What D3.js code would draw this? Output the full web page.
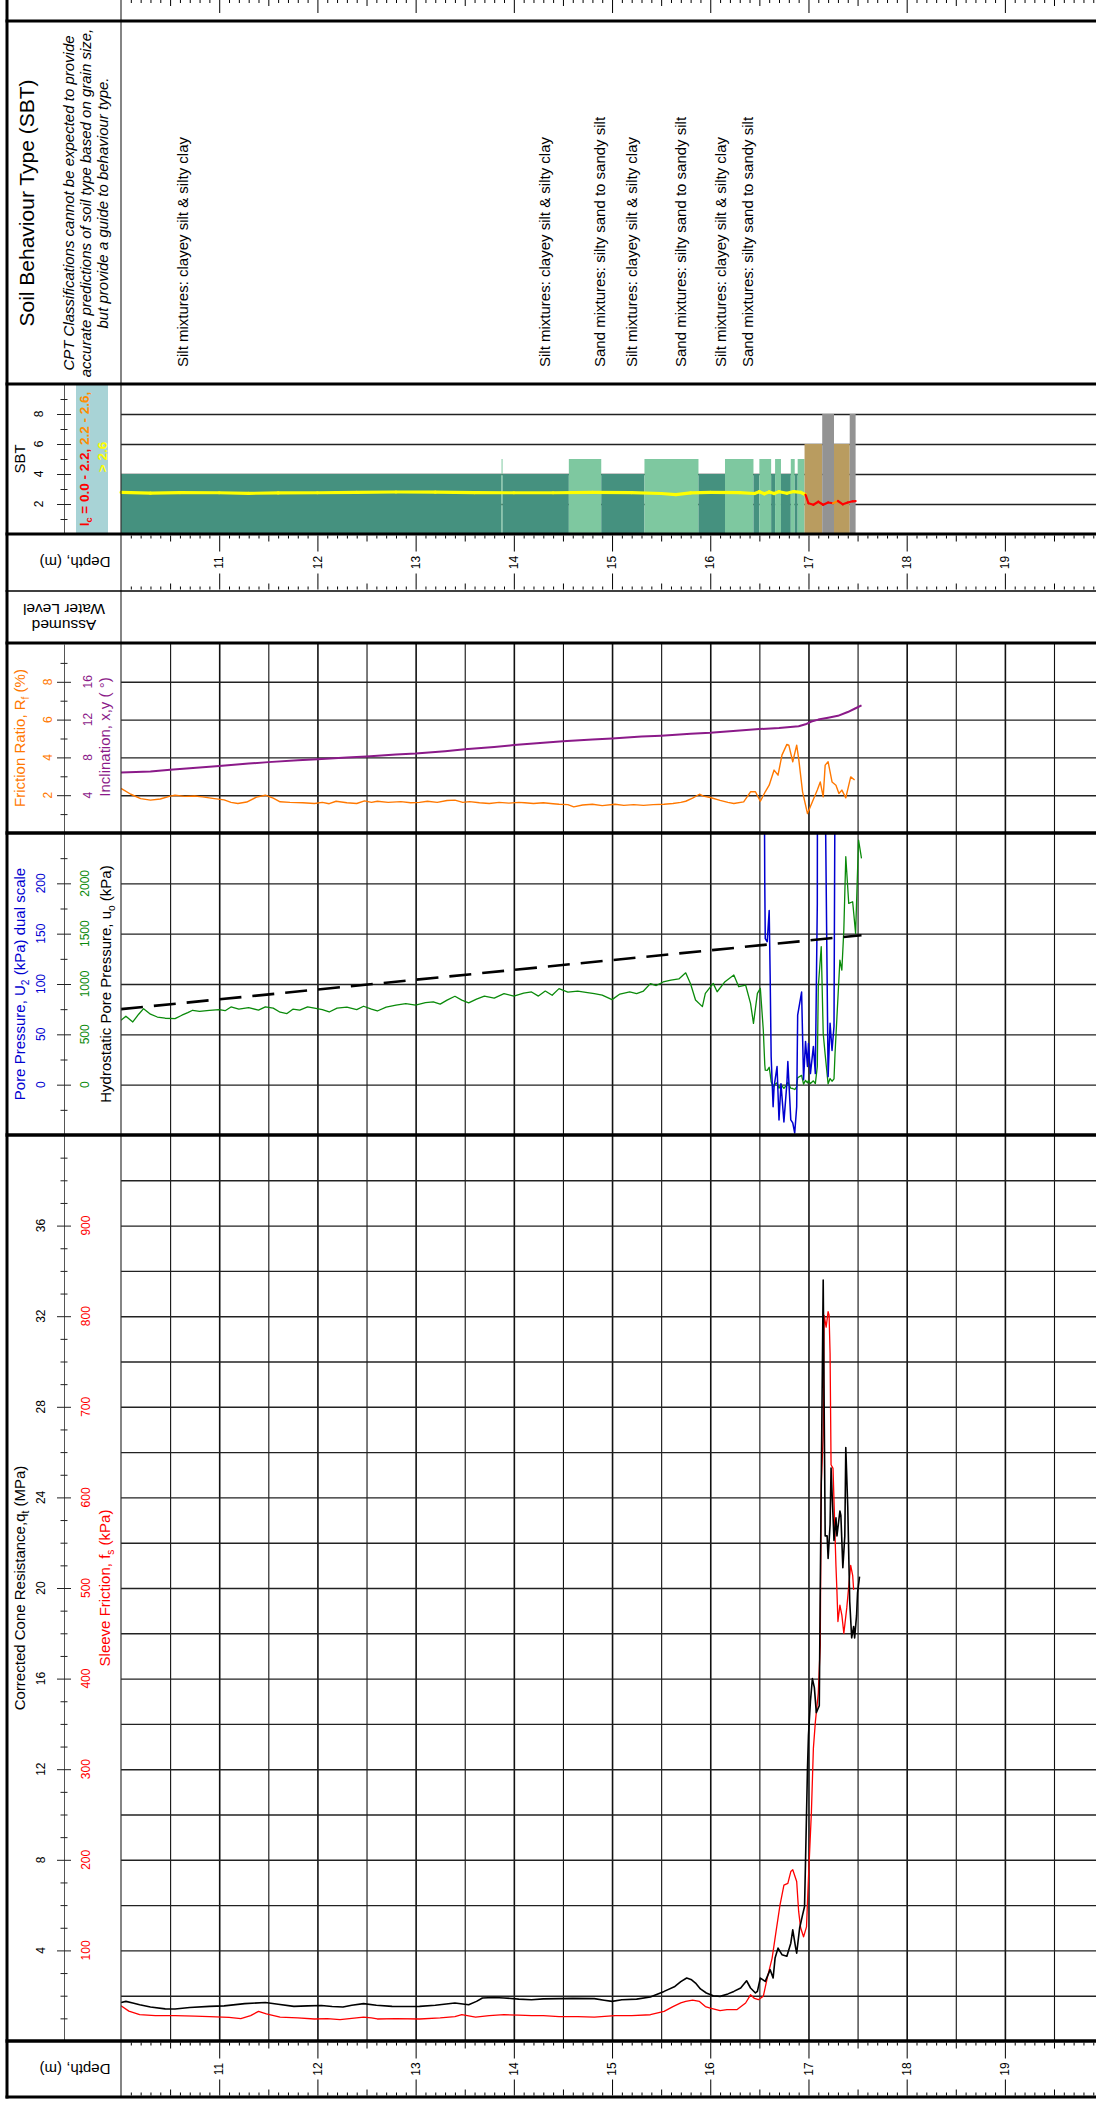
<!DOCTYPE html>
<html>
<head>
<meta charset="utf-8">
<script src="https://cdn.jsdelivr.net/npm/d3@7"></script>
<style>
    html, body { margin: 0; padding: 0; background: #fff; }
    svg { display: block; font-family: "Liberation Sans", Arial, Helvetica, sans-serif; }
</style>
</head>
<body>
<svg id="chart" width="1096" height="2101"></svg>
<script>
/* CPT log, rotated: depth runs left to right, panels are stacked */

// --- Data ---

// soil behaviour type zones: from depth, to depth, zone
const sbtFrom = [10.00, 13.875, 13.885, 14.56, 14.89, 15.33, 15.88, 16.15, 16.44, 16.50, 16.62, 16.66, 16.72, 16.82, 16.86, 16.89, 16.96, 17.14, 17.26, 17.42];
const sbtTo   = [13.875, 13.885, 14.56, 14.89, 15.33, 15.88, 16.15, 16.44, 16.50, 16.62, 16.66, 16.72, 16.82, 16.86, 16.89, 16.96, 17.14, 17.26, 17.42, 17.48];
const sbtZone = [4, 5, 4, 5, 4, 5, 4, 5, 4, 5, 4, 5, 4, 5, 4, 5, 6, 8, 6, 8];

const sbtLabelDepth = [10.63, 14.31, 14.87, 15.20, 15.70, 16.11, 16.38];
const sbtLabelText = [
    'Silt mixtures: clayey silt & silty clay',
    'Silt mixtures: clayey silt & silty clay',
    'Sand mixtures: silty sand to sandy silt',
    'Silt mixtures: clayey silt & silty clay',
    'Sand mixtures: silty sand to sandy silt',
    'Silt mixtures: clayey silt & silty clay',
    'Sand mixtures: silty sand to sandy silt'
];

// soil behaviour index Ic [depth m, Ic]
const icIndex = [
    [10.00, 2.78], [10.30, 2.72], [10.60, 2.76], [11.00, 2.75], [11.30, 2.71], [11.60, 2.74],
    [12.00, 2.75], [12.40, 2.78], [12.80, 2.80], [13.20, 2.79], [13.60, 2.76], [14.00, 2.75],
    [14.40, 2.75], [14.80, 2.77], [15.20, 2.76], [15.50, 2.70], [15.65, 2.63], [15.80, 2.74],
    [16.00, 2.78], [16.30, 2.76], [16.45, 2.70], [16.50, 2.82], [16.55, 2.68], [16.60, 2.80],
    [16.65, 2.70], [16.70, 2.82], [16.78, 2.72], [16.85, 2.83], [16.92, 2.78], [16.97, 2.62],
    [17.00, 2.05], [17.05, 1.95], [17.10, 2.15], [17.15, 1.95], [17.20, 2.10], [17.25, 2.05],
    [17.30, 2.20], [17.35, 1.98], [17.40, 2.10], [17.45, 2.18], [17.48, 2.19]
];

// friction ratio Rf [depth m, %]
const frictionRatio = [
    [10.00, 2.36], [10.10, 2.05], [10.20, 1.82], [10.30, 1.74], [10.40, 1.80], [10.50, 1.95],
    [10.55, 2.00], [10.65, 1.94], [10.75, 1.96], [10.83, 1.91], [10.95, 1.82], [11.05, 1.75],
    [11.12, 1.62], [11.19, 1.56], [11.28, 1.64], [11.38, 1.90], [11.47, 2.00], [11.55, 1.85],
    [11.62, 1.65], [11.72, 1.62], [11.85, 1.60], [11.97, 1.56], [12.05, 1.62], [12.12, 1.55],
    [12.19, 1.68], [12.30, 1.60], [12.40, 1.56], [12.48, 1.70], [12.55, 1.62], [12.61, 1.68],
    [12.72, 1.62], [12.85, 1.66], [12.95, 1.60], [13.04, 1.62], [13.12, 1.68], [13.22, 1.62],
    [13.32, 1.72], [13.40, 1.74], [13.48, 1.62], [13.55, 1.66], [13.65, 1.60], [13.75, 1.56],
    [13.85, 1.62], [13.95, 1.58], [14.05, 1.62], [14.11, 1.60], [14.20, 1.56], [14.30, 1.60],
    [14.40, 1.55], [14.46, 1.52], [14.55, 1.50], [14.61, 1.38], [14.70, 1.48], [14.80, 1.52],
    [14.90, 1.45], [15.03, 1.52], [15.12, 1.46], [15.22, 1.50], [15.32, 1.46], [15.42, 1.50],
    [15.53, 1.52], [15.62, 1.56], [15.70, 1.62], [15.75, 1.68], [15.82, 1.85], [15.89, 2.05],
    [15.93, 1.95], [16.00, 1.88], [16.10, 1.73], [16.18, 1.62], [16.24, 1.56], [16.34, 1.65],
    [16.41, 2.18], [16.46, 2.18], [16.51, 1.68], [16.56, 2.18], [16.60, 2.53], [16.65, 3.33],
    [16.69, 3.06], [16.73, 4.12], [16.78, 4.69], [16.80, 4.65], [16.84, 3.77], [16.88, 4.65],
    [16.90, 3.95], [16.94, 2.18], [16.99, 1.03], [17.04, 1.65], [17.09, 2.27], [17.12, 2.70],
    [17.15, 1.91], [17.17, 3.59], [17.20, 3.77], [17.24, 2.70], [17.28, 2.53], [17.31, 2.09],
    [17.34, 2.27], [17.38, 1.86], [17.43, 2.97], [17.47, 2.80]
];

// inclination [depth m, degrees]
const inclination = [
    [10.00, 6.4], [10.30, 6.5], [10.50, 6.7], [10.70, 6.85], [11.00, 7.1], [11.30, 7.35],
    [11.50, 7.5], [11.80, 7.7], [12.00, 7.8], [12.30, 8.0], [12.50, 8.1], [12.80, 8.3],
    [13.00, 8.4], [13.30, 8.65], [13.50, 8.85], [13.80, 9.1], [14.00, 9.3], [14.30, 9.55],
    [14.50, 9.7], [14.80, 9.9], [15.00, 10.0], [15.30, 10.2], [15.50, 10.3], [15.80, 10.5],
    [16.00, 10.6], [16.30, 10.85], [16.50, 11.0], [16.70, 11.1], [16.90, 11.3], [16.97, 11.5],
    [17.03, 11.8], [17.10, 12.0], [17.20, 12.2], [17.30, 12.4], [17.40, 12.8], [17.48, 13.2],
    [17.54, 13.5]
];

// pore pressure u2 [depth m, kPa]
const porePressure = [
    [10.00, 640], [10.05, 680], [10.12, 623], [10.18, 700], [10.23, 755], [10.30, 700],
    [10.37, 672], [10.45, 660], [10.55, 656], [10.62, 690], [10.68, 715], [10.73, 739],
    [10.80, 728], [10.90, 739], [11.00, 745], [11.06, 735], [11.12, 772], [11.20, 750],
    [11.30, 765], [11.40, 740], [11.47, 772], [11.55, 760], [11.62, 720], [11.69, 706],
    [11.75, 750], [11.82, 740], [11.90, 772], [11.97, 760], [12.05, 745], [12.12, 722],
    [12.20, 760], [12.30, 770], [12.40, 745], [12.47, 779], [12.55, 750], [12.61, 732],
    [12.70, 770], [12.80, 790], [12.90, 805], [13.00, 790], [13.10, 815], [13.18, 822],
    [13.25, 800], [13.32, 840], [13.40, 878], [13.47, 840], [13.54, 812], [13.62, 850],
    [13.70, 880], [13.80, 860], [13.90, 904], [14.00, 880], [14.10, 910], [14.18, 921],
    [14.25, 880], [14.32, 930], [14.39, 888], [14.46, 954], [14.55, 920], [14.65, 930],
    [14.75, 915], [14.82, 904], [14.90, 890], [15.00, 845], [15.08, 900], [15.18, 921],
    [15.25, 905], [15.32, 930], [15.39, 1004], [15.45, 985], [15.52, 1020], [15.60, 1038],
    [15.68, 1050], [15.75, 1111], [15.80, 1000], [15.85, 841], [15.92, 775], [15.95, 907],
    [16.03, 1006], [16.07, 923], [16.15, 1023], [16.24, 1089], [16.29, 973], [16.36, 990],
    [16.41, 808], [16.44, 609], [16.48, 907], [16.51, 957], [16.54, 543], [16.555, 200],
    [16.56, 145], [16.58, 142], [16.60, 173], [16.61, 107], [16.62, 28], [16.64, -22],
    [16.65, -2], [16.68, 18], [16.70, -35], [16.72, 1], [16.75, -37], [16.78, 1],
    [16.79, 23], [16.82, -35], [16.84, -38], [16.86, -48], [16.88, -22], [16.89, 69],
    [16.93, 92], [16.95, 5], [16.97, 43], [16.99, 18], [17.00, 41], [17.02, 11],
    [17.05, 38], [17.07, 11], [17.09, 180], [17.10, 973], [17.13, 1370], [17.15, 510],
    [17.17, 300], [17.20, 8], [17.22, 61], [17.24, 34], [17.26, 58], [17.27, 300],
    [17.29, 675], [17.32, 1238], [17.34, 1139], [17.36, 1536], [17.38, 2264], [17.41, 1800],
    [17.45, 1817], [17.48, 1503], [17.50, 2130], [17.51, 2430], [17.54, 2247]
];

// hydrostatic pore pressure u0, end points [depth m, kPa]
const hydrostatic = [[10.00, 75], [17.54, 148.5]];

// corrected cone resistance qt [depth m, MPa]
const coneResistance = [
    [10.00, 1.70], [10.05, 1.75], [10.12, 1.68], [10.19, 1.60], [10.30, 1.50], [10.45, 1.42],
    [10.55, 1.41], [10.70, 1.48], [10.90, 1.53], [11.05, 1.55], [11.26, 1.65], [11.47, 1.70],
    [11.60, 1.62], [11.76, 1.53], [11.90, 1.55], [12.04, 1.57], [12.15, 1.52], [12.26, 1.50],
    [12.35, 1.58], [12.47, 1.65], [12.60, 1.58], [12.76, 1.53], [12.90, 1.52], [13.04, 1.53],
    [13.20, 1.58], [13.40, 1.68], [13.54, 1.60], [13.62, 1.75], [13.68, 1.90], [13.80, 1.92],
    [13.90, 1.90], [14.05, 1.85], [14.18, 1.82], [14.30, 1.86], [14.46, 1.87], [14.60, 1.88],
    [14.82, 1.87], [14.92, 1.80], [15.00, 1.75], [15.10, 1.82], [15.25, 1.85], [15.39, 1.94],
    [15.53, 2.19], [15.64, 2.41], [15.70, 2.62], [15.76, 2.78], [15.81, 2.70], [15.85, 2.56],
    [15.90, 2.30], [15.96, 2.12], [16.03, 2.00], [16.10, 1.97], [16.18, 2.08], [16.24, 2.19],
    [16.31, 2.34], [16.37, 2.66], [16.41, 2.34], [16.46, 2.12], [16.48, 2.19], [16.51, 2.78],
    [16.56, 2.63], [16.61, 3.15], [16.64, 2.78], [16.66, 3.66], [16.69, 4.10], [16.73, 3.81],
    [16.78, 3.74], [16.82, 4.32], [16.84, 4.91], [16.87, 4.10], [16.88, 3.88], [16.91, 4.99],
    [16.94, 5.57], [16.96, 5.94], [16.97, 7.93], [16.99, 12.04], [17.00, 13.50], [17.02, 15.00],
    [17.04, 16.00], [17.06, 15.60], [17.08, 14.50], [17.11, 14.80], [17.12, 20.0], [17.13, 24.5],
    [17.15, 33.6], [17.17, 22.3], [17.19, 22.3], [17.20, 21.3], [17.22, 22.8], [17.23, 25.3],
    [17.26, 22.1], [17.28, 23.1], [17.29, 22.3], [17.32, 23.4], [17.33, 23.2], [17.35, 20.9],
    [17.37, 22.3], [17.38, 26.2], [17.40, 23.6], [17.42, 19.4], [17.44, 17.8], [17.46, 18.3],
    [17.47, 17.8], [17.49, 18.8], [17.50, 19.8], [17.52, 20.5]
];

// sleeve friction fs [depth m, kPa]
const sleeveFriction = [
    [10.00, 39], [10.08, 33], [10.19, 29], [10.35, 28], [10.55, 28], [10.75, 27.5],
    [10.90, 27], [11.10, 26], [11.22, 24.6], [11.32, 28], [11.40, 32.7], [11.48, 30],
    [11.62, 26.4], [11.80, 25.5], [11.97, 24.3], [12.10, 24.8], [12.23, 23.5], [12.35, 25],
    [12.47, 26.4], [12.55, 25.5], [12.61, 24.3], [12.80, 24.8], [13.04, 24.3], [13.25, 25.5],
    [13.40, 27], [13.47, 29], [13.61, 26.4], [13.75, 28], [13.90, 29], [14.05, 28.5],
    [14.18, 28], [14.30, 28], [14.46, 27], [14.65, 27], [14.82, 26.4], [15.03, 28],
    [15.20, 28], [15.39, 29], [15.53, 32.7], [15.62, 38], [15.70, 42], [15.75, 43.7],
    [15.82, 45], [15.89, 43.7], [15.95, 38], [16.00, 36.4], [16.10, 33.5], [16.17, 34.6],
    [16.27, 34.6], [16.36, 41.9], [16.41, 51], [16.45, 47], [16.49, 45.6], [16.54, 49.3],
    [16.58, 69.5], [16.63, 91.5], [16.67, 121], [16.71, 150], [16.75, 172], [16.79, 174],
    [16.82, 187], [16.84, 189], [16.88, 176], [16.90, 143], [16.92, 125], [16.95, 115],
    [16.98, 126], [17.00, 180], [17.03, 253], [17.05, 323], [17.07, 352], [17.10, 384],
    [17.12, 437], [17.13, 614], [17.15, 669], [17.16, 801], [17.18, 788], [17.20, 805],
    [17.21, 801], [17.22, 759], [17.23, 636], [17.25, 632], [17.28, 524], [17.29, 496],
    [17.30, 463], [17.32, 481], [17.34, 470], [17.36, 450], [17.39, 478], [17.43, 525],
    [17.45, 514], [17.46, 498]
];

// tick labels
const depthLabels = [11, 12, 13, 14, 15, 16, 17, 18, 19];
const sbtTicks = [2, 4, 6, 8];
const rfTicks = [2, 4, 6, 8];
const inclTicks = [4, 8, 12, 16];
const u2Ticks = [0, 50, 100, 150, 200];
const u2DualTicks = [0, 500, 1000, 1500, 2000];
const qtTicks = [4, 8, 12, 16, 20, 24, 28, 32, 36];
const fsTicks = [100, 200, 300, 400, 500, 600, 700, 800, 900];

// --- Layout ---
const W = 1096, H = 2101;
const LEFT = 121, AXIS_X = 64, BORDER_X = 7;
const ROWS = {
    top: [0, 21], sbtText: [21, 384], sbt: [384, 534], depth1: [534, 591], water: [591, 643],
    rf: [643, 833], pore: [833, 1135], cone: [1135, 2041], depth2: [2041, 2097]
};
const C = {
    zone: { 4: '#45917f', 5: '#7ec8a0', 6: '#b99c60', 8: '#939393' },
    legendBox: '#a8d3d6', red: '#ff0000', orange: '#ff8c00', yellow: '#ffff00',
    rf: '#ff7800', incl: '#8b1a89', blue: '#0000d0', green: '#0a8a0a'
};

const svg = d3.select('#chart');
const isInt = d => Math.abs(d - Math.round(d)) < 1e-6;
const isHalf = d => Math.abs(d * 2 - Math.round(d * 2)) < 1e-6;

// --- Scales ---
const x = d3.scaleLinear().domain([10, 20]).range([LEFT, 1103.1]);
const ySbt = d3.scaleLinear().domain([0, 10]).range([534, 384]);
const yRf = d3.scaleLinear().domain([0, 10]).range([833, 644]);
const yIncl = d3.scaleLinear().domain([0, 20]).range([833, 644]);
const yU = d3.scaleLinear().domain([-50, 250]).range([1135, 833]);
const yUDual = d3.scaleLinear().domain([-500, 2500]).range([1135, 833]);
const yQ = d3.scaleLinear().domain([0, 40]).range([2041, 1135]);
const yFs = d3.scaleLinear().domain([0, 1000]).range([2041, 1135]);

// --- Helpers ---
const defs = svg.append('defs');
function clip(id, [y0, y1]) {
    defs.append('clipPath').attr('id', id)
        .append('rect').attr('x', LEFT).attr('y', y0).attr('width', W - LEFT).attr('height', y1 - y0);
    return `url(#${id})`;
}

// rotated text, parts may carry a colour or be a subscript
function label(x0, y0, parts, o = {}) {
    const size = o.size || 15;
    const t = svg.append('text')
        .attr('transform', `translate(${x0},${y0}) rotate(${o.rot ?? -90})`)
        .attr('text-anchor', o.anchor || 'middle')
        .attr('font-size', size)
        .attr('font-style', o.italic ? 'italic' : null)
        .attr('font-weight', o.bold ? 'bold' : null)
        .attr('fill', o.color || '#000');
    const list = typeof parts === 'string' ? [{ t: parts }] : parts;
    let shift = 0;
    list.forEach((p, i) => {
        const s = t.append('tspan').text(p.t);
        if (p.color) s.attr('fill', p.color);
        let dy = i === 0 ? size * 0.35 : 0;
        if (p.sub) {
            s.attr('font-size', size * 0.68);
            dy += size * 0.25 - shift; shift = size * 0.25;
        } else {
            dy -= shift; shift = 0;
        }
        if (dy) s.attr('dy', dy);
    });
    return t;
}

function hGrid(scale, values) {
    svg.append('g')
        .attr('transform', `translate(${LEFT},0)`)
        .call(d3.axisRight(scale).tickValues(values).tickSize(W - LEFT).tickFormat(''))
        .call(g => g.select('.domain').remove())
        .selectAll('line').attr('stroke', '#222').attr('stroke-width', 1.4);
}

function vGrid([y0, y1]) {
    svg.append('g')
        .attr('transform', `translate(0,${y0})`)
        .call(d3.axisBottom(x).tickValues(d3.range(10.5, 20, 0.5)).tickSize(y1 - y0).tickFormat(''))
        .call(g => g.select('.domain').remove())
        .selectAll('line').attr('stroke', '#111').attr('stroke-width', d => isInt(d) ? 1.6 : 1.1);
}

function leftAxis(scale, ticks, majors) {
    const g = svg.append('g')
        .attr('transform', `translate(${AXIS_X},0)`)
        .call(d3.axisLeft(scale).tickValues(ticks).tickSize(0).tickSizeOuter(0).tickFormat(''));
    g.select('.domain').attr('stroke', '#555');
    g.selectAll('.tick line')
        .attr('stroke', '#222')
        .attr('x1', d => majors.includes(d) ? -7 : -3.5)
        .attr('x2', d => majors.includes(d) ? 7 : 3.5);
}

function tickLabels(scale, values, xPos, color, fmt = String) {
    values.forEach(v => label(xPos, scale(v), fmt(v), { size: 12, color }));
}

function depthTicks(y0, dir, long) {
    const g = svg.append('g')
        .attr('transform', `translate(0,${y0})`)
        .call(d3.axisBottom(x).tickValues(d3.range(101, 200).map(v => v / 10)).tickSize(0).tickFormat(''));
    g.select('.domain').remove();
    g.selectAll('.tick line')
        .attr('stroke', '#000')
        .attr('y2', d => dir * (isInt(d) ? long : isHalf(d) ? 6 : 3));
}

function series(data, scale, color, width, clipUrl) {
    svg.append('path')
        .datum(data)
        .attr('clip-path', clipUrl)
        .attr('fill', 'none')
        .attr('stroke', color)
        .attr('stroke-width', width)
        .attr('stroke-linejoin', 'round')
        .attr('d', d3.line().x(d => x(d[0])).y(d => scale(d[1])));
}

// --- SBT text panel ---
label(27, 203, 'Soil Behaviour Type (SBT)', { size: 21 });
label(69, 203, 'CPT Classifications cannot be expected to provide', { size: 15, italic: true });
label(86, 203, 'accurate predictions of soil type based on grain size,', { size: 15, italic: true });
label(103, 203, 'but provide a guide to behaviour type.', { size: 15, italic: true });
sbtLabelDepth.forEach((d, i) => label(x(d), 367, sbtLabelText[i], { size: 15, anchor: 'start' }));

// --- SBT panel ---
hGrid(ySbt, sbtTicks);
svg.append('g').selectAll('rect')
    .data(sbtZone.map((z, i) => ({ from: sbtFrom[i], to: sbtTo[i], zone: z })))
    .join('rect')
    .attr('x', d => x(d.from))
    .attr('width', d => x(d.to) - x(d.from))
    .attr('y', d => ySbt(d.zone))
    .attr('height', d => ySbt(0) - ySbt(d.zone))
    .attr('fill', d => C.zone[d.zone]);

const icColor = v => v > 2.6 ? C.yellow : v >= 2.2 ? C.orange : C.red;
const icLine = d3.line().x(d => x(d[0])).y(d => ySbt(d[1]));
svg.append('g').selectAll('path')
    .data(d3.pairs(icIndex))
    .join('path')
    .attr('fill', 'none')
    .attr('stroke', d => icColor(d[1][1]))
    .attr('stroke-width', d => d[1][1] > 2.6 ? 3.2 : 2.2)
    .attr('stroke-linecap', 'round')
    .attr('d', d => icLine(d));

leftAxis(ySbt, d3.range(1, 10), sbtTicks);
tickLabels(ySbt, sbtTicks, 39, '#000');
label(19.5, 459, 'SBT', { size: 15 });
svg.append('rect').attr('x', 76).attr('y', 385).attr('width', 32).attr('height', 148).attr('fill', C.legendBox);
label(84, 459, [
    { t: 'I', color: C.red }, { t: 'c', sub: true, color: C.red }, { t: ' = 0.0 - 2.2, ', color: C.red },
    { t: '2.2 - 2.6,', color: C.orange }
], { size: 13.5, bold: true });
label(102, 457, '> 2.6', { size: 13.5, bold: true, color: C.yellow });

// --- Depth axis rows ---
[[ROWS.top, 13], [ROWS.depth1, 16], [ROWS.depth2, 16]].forEach(([[y0, y1], long], i) => {
    depthTicks(y0 + (i === 0 ? 0 : 1.5), 1, long);
    if (i > 0) {
        const mid = (y0 + y1) / 2;
        depthTicks(y1 - 1.5, -1, long);
        depthLabels.forEach(d => label(x(d), mid, String(d), { size: 12 }));
        label(75, mid, 'Depth, (m)', { size: 15, rot: 180 });
    }
});

// assumed water level row (upside down)
const wl = svg.append('g').attr('transform', 'translate(64,617) rotate(180)')
    .attr('font-size', 15.5).attr('text-anchor', 'middle');
wl.append('text').attr('y', -8).attr('dy', '0.35em').text('Assumed');
wl.append('text').attr('y', 8).attr('dy', '0.35em').text('Water Level');

// --- Friction ratio / inclination panel ---
vGrid(ROWS.rf);
hGrid(yRf, rfTicks);
const clipRf = clip('clip-rf', ROWS.rf);
series(inclination, yIncl, C.incl, 2, clipRf);
series(frictionRatio, yRf, C.rf, 1.4, clipRf);
leftAxis(yRf, d3.range(1, 10), rfTicks);
tickLabels(yRf, rfTicks, 47.5, C.rf);
tickLabels(yIncl, inclTicks, 87.5, C.incl);
label(19.5, 738, [{ t: 'Friction Ratio, R' }, { t: 'f', sub: true }, { t: ' (%)' }], { color: C.rf });
label(105, 737, 'Inclination, x,y ( \u00B0)', { color: C.incl });

// --- Pore pressure panel ---
vGrid(ROWS.pore);
hGrid(yU, u2Ticks);
const clipPore = clip('clip-pore', ROWS.pore);
series(porePressure, yUDual, C.green, 1.3, clipPore);
series(porePressure, yU, C.blue, 1.5, clipPore);
svg.append('path')
    .datum(hydrostatic)
    .attr('fill', 'none').attr('stroke', '#000').attr('stroke-width', 2.6)
    .attr('stroke-dasharray', '22,11')
    .attr('d', d3.line().x(d => x(d[0])).y(d => yU(d[1])));
leftAxis(yU, d3.range(-25, 250, 25), u2Ticks);
tickLabels(yU, u2Ticks, 40.5, C.blue);
tickLabels(yUDual, u2DualTicks, 85, C.green);
label(19.5, 984, [{ t: 'Pore Pressure, U' }, { t: '2', sub: true }, { t: ' (kPa) dual scale' }], { color: C.blue });
label(106, 984, [{ t: 'Hydrostatic Pore Pressure, u' }, { t: 'o', sub: true }, { t: ' (kPa)' }]);

// --- Cone resistance / sleeve friction panel ---
vGrid(ROWS.cone);
hGrid(yQ, d3.range(2, 40, 2));
const clipCone = clip('clip-cone', ROWS.cone);
series(sleeveFriction, yFs, C.red, 1.3, clipCone);
series(coneResistance, yQ, '#000', 1.6, clipCone);
leftAxis(yQ, d3.range(1, 40), qtTicks);
tickLabels(yQ, qtTicks, 40.5, '#000');
tickLabels(yFs, fsTicks, 86, C.red);
label(19.5, 1588, [{ t: 'Corrected Cone Resistance,q' }, { t: 't', sub: true }, { t: ' (MPa)' }]);
label(105, 1588, [{ t: 'Sleeve Friction, f' }, { t: 's', sub: true }, { t: ' (kPa)' }], { color: C.red });

// --- Frame ---
svg.append('line').attr('x1', LEFT).attr('x2', LEFT).attr('y1', 0).attr('y2', 2097)
    .attr('stroke', '#333').attr('stroke-width', 1.2);
svg.append('line').attr('x1', BORDER_X).attr('x2', BORDER_X).attr('y1', 0).attr('y2', 2098.5)
    .attr('stroke', '#000').attr('stroke-width', 3);
[[21, 3], [384, 3], [534, 3], [591, 1.5], [643, 3], [833, 3.5], [1135, 3.5], [2041, 3.5], [2097, 3]]
    .forEach(([yy, w]) => svg.append('line')
        .attr('x1', BORDER_X - 1.5).attr('x2', W).attr('y1', yy).attr('y2', yy)
        .attr('stroke', '#000').attr('stroke-width', w));
</script>
</body>
</html>
